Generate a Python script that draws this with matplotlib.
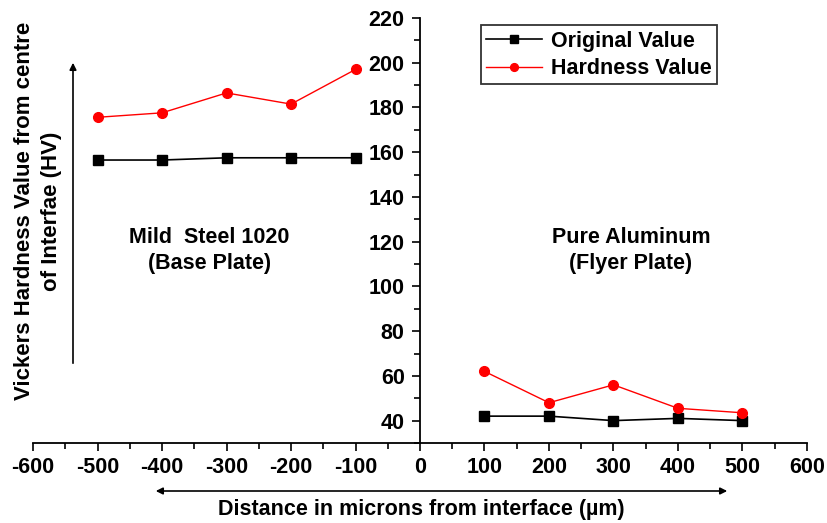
import matplotlib
matplotlib.use("Agg")
import matplotlib.pyplot as plt
from matplotlib.ticker import MultipleLocator

# distance from interface (microns), negative = base plate side
dist_steel = [-500, -400, -300, -200, -100]
dist_alu = [100, 200, 300, 400, 500]

orig_steel = [156.5, 156.5, 157.5, 157.5, 157.5]
hard_steel = [175.6, 177.6, 186.5, 181.5, 197]

orig_alu = [42, 42, 40, 41, 40]
hard_alu = [62, 48, 56, 45.5, 43.5]

plt.rcParams['font.family'] = ['Liberation Sans', 'DejaVu Sans']
plt.rcParams['font.weight'] = 'bold'
plt.rcParams['font.size'] = 15
plt.rcParams['axes.unicode_minus'] = False

fig = plt.figure(figsize=(8.28, 5.23), dpi=100)
ax = fig.add_axes([0.0399, 0.153, 0.9347, 0.8126])

ax.plot(dist_steel, orig_steel, color='black', lw=1.2, marker='s', ms=7.5, label='Original Value')
ax.plot(dist_alu, orig_alu, color='black', lw=1.2, marker='s', ms=7.5)
ax.plot(dist_steel, hard_steel, color='red', lw=1.0, marker='o', ms=7, label='Hardness Value')
ax.plot(dist_alu, hard_alu, color='red', lw=1.0, marker='o', ms=7)

ax.set_xlim(-600, 600)
ax.set_ylim(30, 220)
ax.spines['left'].set_position(('data', 0))
ax.spines['top'].set_visible(False)
ax.spines['right'].set_visible(False)
for s in ['left', 'bottom']:
    ax.spines[s].set_linewidth(1.3)
ax.xaxis.set_major_locator(MultipleLocator(100))
ax.xaxis.set_minor_locator(MultipleLocator(50))
ax.set_yticks(range(40, 221, 20))
ax.yaxis.set_minor_locator(MultipleLocator(10))
ax.tick_params(which='major', length=6, width=1.2, pad=4, labelsize=15.5)
ax.tick_params(which='minor', length=4, width=1.2)
ax.tick_params(axis='y', which='major', pad=5)

leg = ax.legend(loc='upper right', bbox_to_anchor=(0.884, 0.983), frameon=True, fancybox=False,
                edgecolor='black', handlelength=2.6, handletextpad=0.4, borderpad=0.25,
                labelspacing=0.3, fontsize=15.5, borderaxespad=0, markerscale=0.8)
leg.get_frame().set_linewidth(1.3)

ax.text(-327, 116, 'Mild  Steel 1020\n(Base Plate)', ha='center', va='center', fontsize=15.5,
        linespacing=1.3)
ax.text(327, 116, 'Pure Aluminum\n(Flyer Plate)', ha='center', va='center', fontsize=15.5,
        linespacing=1.3)

fig.text(0.046, 0.596, 'Vickers Hardness Value from centre\nof Interfae (HV)', rotation=90,
         ha='center', va='center', fontsize=16, linespacing=1.4)
fig.text(0.5085, 0.025, 'Distance in microns from interface (\u00b5m)', ha='center', va='center',
         fontsize=15.5)

# direction arrows
fig.add_artist(matplotlib.patches.FancyArrowPatch((73 / 828, 1 - 366 / 523), (73 / 828, 1 - 60 / 523),
               transform=fig.transFigure, arrowstyle='-|>', mutation_scale=10, color='black', lw=1.2))
fig.add_artist(matplotlib.patches.FancyArrowPatch((153 / 828, 1 - 491 / 523), (730 / 828, 1 - 491 / 523),
               transform=fig.transFigure, arrowstyle='<|-|>', mutation_scale=10, color='black', lw=1.2))

fig.savefig('out.png', dpi=100)
